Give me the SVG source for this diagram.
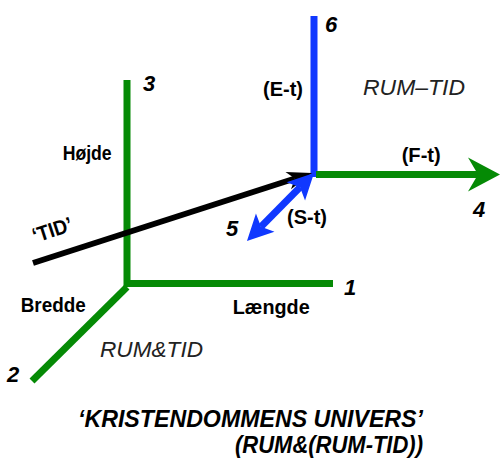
<svg xmlns="http://www.w3.org/2000/svg" width="500" height="466" viewBox="0 0 500 466">
<style>
.g{stroke:#058a05;stroke-width:7;fill:none}
.b{stroke:#1038ff;stroke-width:7;fill:none}
.k{stroke:#000;stroke-width:6;fill:none}
.lb{font-family:"Liberation Sans",Arial,sans-serif;font-weight:bold;font-size:21px;fill:#000}
.num{font-family:"Liberation Sans",Arial,sans-serif;font-weight:bold;font-style:italic;font-size:22px;fill:#000}
.it{font-family:"Liberation Sans",Arial,sans-serif;font-style:italic;font-size:22px;fill:#222}
.cap{font-family:"Liberation Sans",Arial,sans-serif;font-style:italic;font-weight:bold;font-size:23px;fill:#000}
</style>
<defs>
<marker id="hg" markerUnits="userSpaceOnUse" viewBox="-15 -20 40 40" markerWidth="40" markerHeight="40" refX="0" refY="0" orient="auto" overflow="visible">
<path d="M22,0 L-10,-17 L0,0 L-10,17 Z" fill="#058a05"/>
</marker>
<marker id="hk" markerUnits="userSpaceOnUse" viewBox="-15 -20 40 40" markerWidth="40" markerHeight="40" refX="0" refY="0" orient="auto" overflow="visible">
<path d="M18,0 L-7,-9 L0,0 L-7,9 Z" fill="#000"/>
</marker>
<marker id="hb" markerUnits="userSpaceOnUse" viewBox="-15 -20 40 40" markerWidth="40" markerHeight="40" refX="0" refY="0" orient="auto-start-reverse" overflow="visible">
<path d="M20,0 L-6,-13 L0,0 L-6,13 Z" fill="#1038ff"/>
</marker>
</defs>
<g id="connectors">
<polyline class="g" points="127,80 127,283.5 333,283.5"/>
<line class="g" x1="127" y1="287" x2="32" y2="381"/>
<line class="b" x1="314" y1="16" x2="314" y2="177"/>
<line class="g" x1="316" y1="174.5" x2="478" y2="174.5" marker-end="url(#hg)"/>
<line class="k" x1="33" y1="263" x2="294.9" y2="178.5" marker-end="url(#hk)"/>
<line class="b" x1="300" y1="187.2" x2="261" y2="226.8" marker-start="url(#hb)" marker-end="url(#hb)"/>
</g>
<g id="axis-3"><text class="num" x="143" y="91">3</text><text class="lb" x="62.7" y="160" textLength="49" lengthAdjust="spacingAndGlyphs">Højde</text></g>
<g id="axis-2"><text class="num" x="7" y="382">2</text><text class="lb" x="20.7" y="312" textLength="65" lengthAdjust="spacingAndGlyphs">Bredde</text></g>
<g id="axis-1"><text class="num" x="344" y="295">1</text><text class="lb" x="232.7" y="313.5" textLength="77" lengthAdjust="spacingAndGlyphs">Længde</text></g>
<g id="axis-6"><text class="num" x="325" y="32">6</text><text class="lb" x="263" y="96" textLength="40" lengthAdjust="spacingAndGlyphs">(E-t)</text></g>
<g id="axis-4"><text class="num" x="473" y="217">4</text><text class="lb" x="401.7" y="162" textLength="39" lengthAdjust="spacingAndGlyphs">(F-t)</text></g>
<g id="axis-5"><text class="num" x="226" y="236">5</text><text class="lb" x="287" y="223.5" textLength="40" lengthAdjust="spacingAndGlyphs">(S-t)</text></g>
<g id="tid"><text class="lb" transform="translate(35,243) rotate(-18)" textLength="41" lengthAdjust="spacingAndGlyphs">‘TID’</text></g>
<g id="regions">
<text class="it" x="363" y="95" textLength="102" lengthAdjust="spacingAndGlyphs">RUM–TID</text>
<text class="it" x="100" y="357" textLength="103" lengthAdjust="spacingAndGlyphs">RUM&amp;TID</text>
</g>
<g id="caption">
<text class="cap" x="78" y="427" textLength="345" lengthAdjust="spacingAndGlyphs">‘KRISTENDOMMENS UNIVERS’</text>
<text class="cap" x="235" y="453" textLength="188" lengthAdjust="spacingAndGlyphs">(RUM&amp;(RUM-TID))</text>
</g>
</svg>
